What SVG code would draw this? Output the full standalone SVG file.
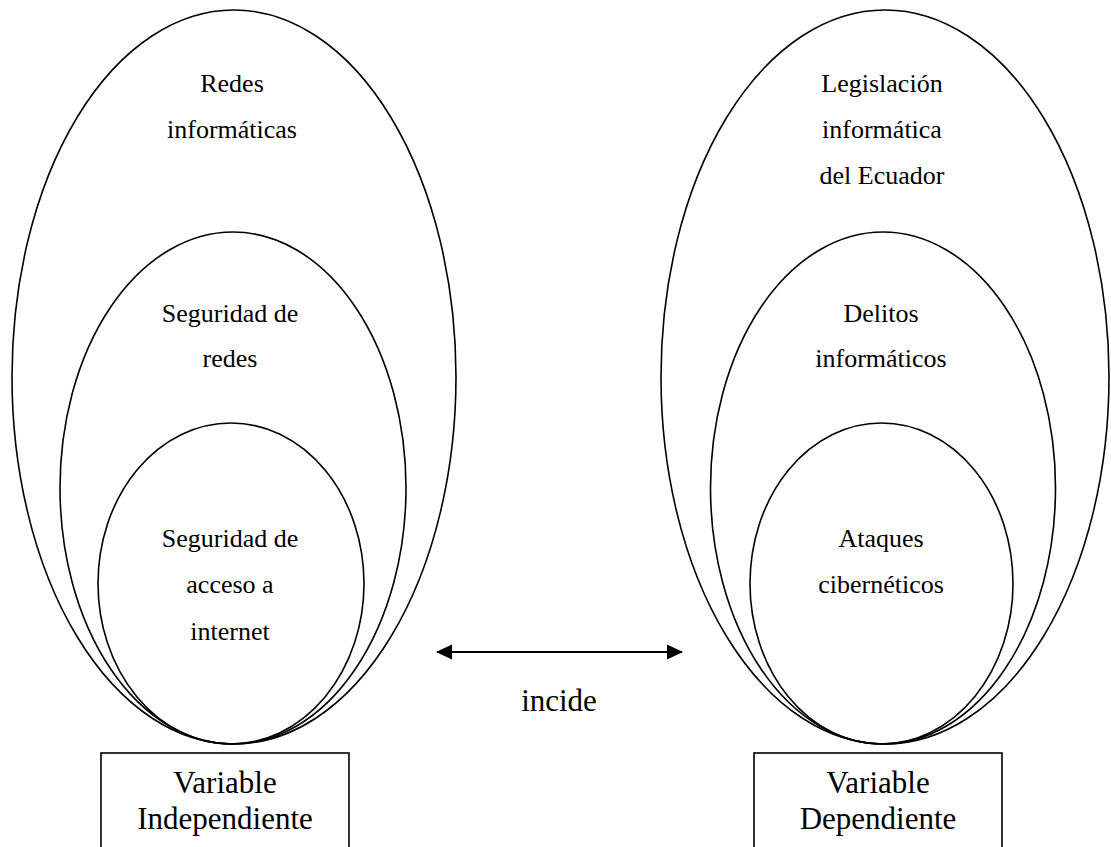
<svg xmlns="http://www.w3.org/2000/svg" width="1111" height="847" viewBox="0 0 1111 847">
  <style>
    .ring { fill: none; stroke: #000; stroke-width: 1.6; }
    .box { fill: #fff; stroke: #000; stroke-width: 1.6; }
    text { font-family: 'Liberation Serif', 'DejaVu Serif', serif; fill: #000; text-anchor: middle; }
    .lbl { font-size: 26px; }
    .big { font-size: 31px; }
    .link { stroke: #000; stroke-width: 2; fill: none; }
  </style>
  <defs>
    <marker id="head" viewBox="0 0 16 16" refX="15" refY="8" markerWidth="16" markerHeight="16" markerUnits="userSpaceOnUse" orient="auto-start-reverse">
      <path d="M0,0.5 L16,8 L0,15.5 Z" fill="#000"/>
    </marker>
  </defs>
  <rect width="1111" height="847" fill="#fff"/>

  <!-- independent variable: nested sets -->
  <g id="redes-informaticas" font-family="Liberation Serif, serif">
    <ellipse class="ring" cx="234" cy="377" rx="222" ry="367"/>
    <text class="lbl" x="232" y="92">Redes</text>
    <text class="lbl" x="232" y="138">informáticas</text>
  </g>
  <g id="seguridad-redes">
    <ellipse class="ring" cx="233" cy="488" rx="173" ry="256"/>
    <text class="lbl" x="230" y="322">Seguridad de</text>
    <text class="lbl" x="230" y="367">redes</text>
  </g>
  <g id="seguridad-acceso">
    <ellipse class="ring" cx="231" cy="583.5" rx="133" ry="160.5"/>
    <text class="lbl" x="230" y="547">Seguridad de</text>
    <text class="lbl" x="230" y="593">acceso a</text>
    <text class="lbl" x="230" y="640">internet</text>
  </g>
  <g id="variable-independiente">
    <rect class="box" x="101" y="753" width="248" height="110"/>
    <text class="big" x="225" y="793">Variable</text>
    <text class="big" x="225" y="829">Independiente</text>
  </g>

  <!-- dependent variable: nested sets -->
  <g id="legislacion">
    <ellipse class="ring" cx="885" cy="377" rx="224" ry="367"/>
    <text class="lbl" x="882" y="92">Legislación</text>
    <text class="lbl" x="882" y="138">informática</text>
    <text class="lbl" x="882" y="184">del Ecuador</text>
  </g>
  <g id="delitos">
    <ellipse class="ring" cx="883" cy="488" rx="172.5" ry="256"/>
    <text class="lbl" x="881" y="322">Delitos</text>
    <text class="lbl" x="881" y="367">informáticos</text>
  </g>
  <g id="ataques">
    <ellipse class="ring" cx="881.5" cy="583.5" rx="131.5" ry="160.5"/>
    <text class="lbl" x="881" y="547">Ataques</text>
    <text class="lbl" x="881" y="593">cibernéticos</text>
  </g>
  <g id="variable-dependiente">
    <rect class="box" x="754" y="753" width="248" height="110"/>
    <text class="big" x="878" y="793">Variable</text>
    <text class="big" x="878" y="829">Dependiente</text>
  </g>

  <!-- relation between the two variables -->
  <g id="connectors">
    <line class="link" x1="437" y1="652" x2="682" y2="652" marker-start="url(#head)" marker-end="url(#head)"/>
    <text class="big" x="559" y="711">incide</text>
  </g>
</svg>
